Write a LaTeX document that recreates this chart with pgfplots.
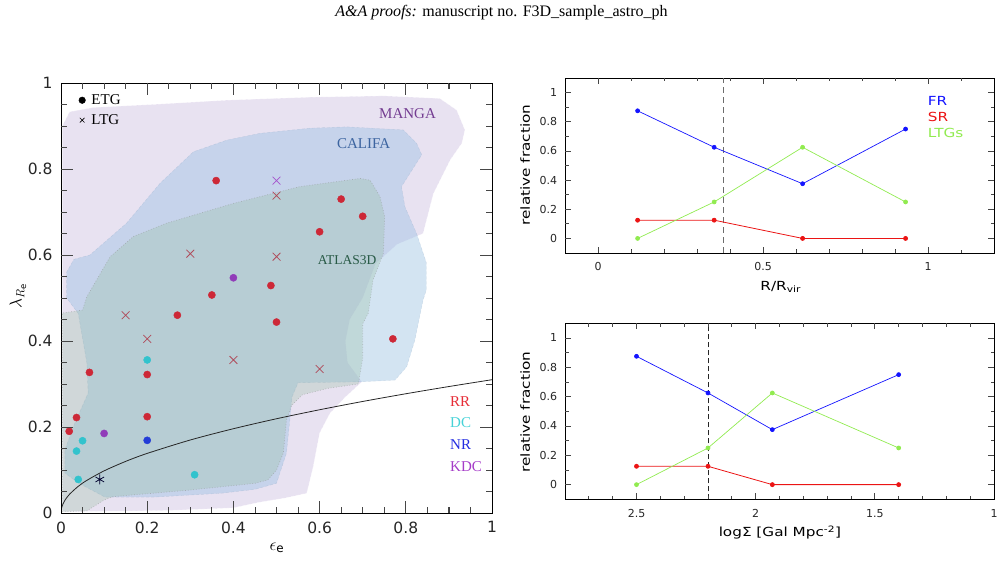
\documentclass[border=0pt]{standalone}
\usepackage{fontspec}
\setmainfont{DejaVu Sans}
\newfontfamily\tnr{Liberation Serif}
\usepackage{graphicx}
\usepackage{pgfplots}
\pgfplotsset{compat=1.18}
\definecolor{mangaC}{RGB}{205,190,225}
\definecolor{califaC}{RGB}{150,190,225}
\definecolor{atlasC}{RGB}{150,190,160}
\definecolor{rrC}{RGB}{205,40,55}
\definecolor{dcC}{RGB}{50,195,205}
\definecolor{nrC}{RGB}{35,60,215}
\definecolor{kdcC}{RGB}{145,60,185}
\definecolor{ltgX}{RGB}{175,75,90}
\definecolor{ltgP}{RGB}{165,85,205}
\definecolor{frC}{RGB}{20,20,255}
\definecolor{srC}{RGB}{235,20,20}
\definecolor{lgC}{RGB}{145,235,80}
\definecolor{tickC}{RGB}{70,70,70}
\newcommand{\sm}[1]{\scalebox{1.22}[1]{#1}}
\begin{document}
\begin{tikzpicture}
\useasboundingbox (0pt,0pt) rectangle (1003pt,563pt);
\node[anchor=base, font=\tnr\fontsize{16}{18}\selectfont, inner sep=0pt] at (501.5pt,546pt) {\textit{A\&A proofs:} manuscript no. F3D\_sample\_astro\_ph};

% ---------------- left panel ----------------
\begin{axis}[
  at={(61pt,50pt)}, anchor=south west, scale only axis,
  width=431pt, height=430pt,
  xmin=0, xmax=1, ymin=0, ymax=1,
  xtick={0,0.2,0.4,0.6,0.8,1}, ytick={0,0.2,0.4,0.6,0.8,1},
  xticklabels={0,0.2,0.4,0.6,0.8,1}, yticklabels={0,0.2,0.4,0.6,0.8,1},
  minor tick num=3,
  tickwidth=12pt, subtickwidth=6pt,
  xtick style={black!75, line width=0.8pt},
  ytick style={black!75, line width=0.8pt},
  tick label style={font=\fontsize{15.5}{17}\selectfont, black!85},
  xticklabel style={yshift=-5pt},
  yticklabel style={xshift=-5pt},
  xlabel={\fontsize{17}{19}\selectfont$\epsilon_{\mathrm{e}}$},
  xlabel style={at={(axis description cs:0.501,-0.081)}, anchor=center},
  ylabel={\fontsize{17}{19}\selectfont$\lambda_{R_{\mathrm{e}}}$},
  ylabel style={at={(axis description cs:-0.0998,0.505)}, anchor=center},
  axis on top,
  legend style={at={(axis cs:0.041,0.976)}, anchor=north west, draw=none, fill=none,
    font=\tnr\fontsize{15}{17}\selectfont, inner sep=0pt, row sep=6.5pt, column sep=5pt,
    nodes={inner sep=1pt}},
  legend cell align=left,
  legend image code/.code={\draw[#1] plot coordinates {(0pt,0pt)};},
]
\addlegendimage{only marks, mark=*, mark size=3.3pt, black}
\addlegendentry{ETG}
\addlegendimage{only marks, mark=x, mark size=3.3pt, black, line width=0.6pt}
\addlegendentry{LTG}

% MANGA region
\addplot[fill=mangaC, fill opacity=0.45, draw=white, draw opacity=0.6, densely dashed, forget plot] coordinates {
(0.003,0.003) (0.1,0.004) (0.25,0.006) (0.4,0.012) (0.46,0.025) (0.52,0.035) (0.57,0.046)
(0.585,0.107) (0.60,0.186) (0.624,0.232) (0.66,0.27) (0.698,0.305)
(0.665,0.35) (0.66,0.40) (0.67,0.45) (0.70,0.50) (0.73,0.58) (0.78,0.625) (0.84,0.65)
(0.864,0.743) (0.903,0.821) (0.93,0.86) (0.937,0.891) (0.918,0.937) (0.879,0.964)
(0.75,0.97) (0.578,0.967) (0.384,0.96) (0.23,0.951) (0.075,0.943) (0.02,0.933) (0.003,0.90)
} -- cycle;
% CALIFA region
\addplot[fill=califaC, fill opacity=0.42, draw=califaC!80!black, draw opacity=0.25, densely dashed, forget plot] coordinates {
(0.013,0.50) (0.013,0.56) (0.03,0.59) (0.067,0.60) (0.152,0.674) (0.23,0.767) (0.307,0.84)
(0.384,0.867) (0.462,0.883) (0.578,0.895) (0.663,0.898) (0.794,0.891) (0.825,0.86) (0.837,0.833)
(0.79,0.759) (0.798,0.712) (0.825,0.65) (0.848,0.581) (0.848,0.52) (0.84,0.495) (0.821,0.402)
(0.802,0.34) (0.775,0.309) (0.694,0.305) (0.55,0.303) (0.536,0.27) (0.531,0.216) (0.523,0.139)
(0.50,0.069) (0.45,0.055) (0.373,0.046) (0.218,0.037) (0.102,0.037) (0.04,0.07) (0.009,0.093)
(0.009,0.147) (0.032,0.209) (0.063,0.279) (0.06,0.349) (0.04,0.464)
} -- cycle;
% ATLAS3D region
\addplot[fill=atlasC, fill opacity=0.3, draw=black!45, draw opacity=0.5, dotted, line width=0.7pt, forget plot] coordinates {
(0.003,0.003) (0.06,0.005) (0.1,0.03) (0.12,0.038) (0.295,0.053) (0.45,0.069) (0.48,0.077)
(0.50,0.10) (0.516,0.14) (0.523,0.216) (0.535,0.25) (0.56,0.275) (0.62,0.29) (0.69,0.30)
(0.70,0.36) (0.70,0.44) (0.713,0.465) (0.724,0.542) (0.748,0.604) (0.751,0.689) (0.74,0.736)
(0.717,0.774) (0.694,0.778) (0.554,0.759) (0.4,0.72) (0.245,0.674) (0.168,0.643) (0.114,0.596)
(0.06,0.503) (0.05,0.472) (0.003,0.465)
} -- cycle;

% curve
\addplot[black!85, line width=0.8pt, smooth, forget plot] coordinates {
(0,0) (0.001,0.0098) (0.0025,0.0155) (0.005,0.0219) (0.01,0.031) (0.02,0.0438) (0.04,0.062)
(0.06,0.0759) (0.1,0.098) (0.15,0.120) (0.2,0.1386) (0.3,0.1698) (0.4,0.196) (0.5,0.2192)
(0.6,0.2401) (0.7,0.2594) (0.8,0.2773) (0.9,0.2941) (1.0,0.31)
};

% LTG crosses
\addplot[only marks, mark=x, mark size=5.5pt, ltgX, line width=0.75pt, forget plot] coordinates {
(0.50,0.738) (0.30,0.603) (0.50,0.596) (0.15,0.46) (0.20,0.405) (0.40,0.356) (0.60,0.335)
};
\addplot[only marks, mark=x, mark size=5.5pt, ltgP, line width=0.75pt, forget plot] coordinates {(0.50,0.773)};
\addplot[only marks, mark=asterisk, mark size=5pt, black!70!blue!60!black, line width=0.75pt, forget plot] coordinates {(0.09,0.078)};

% ETG circles
\addplot[only marks, mark=*, mark size=3.6pt, rrC, forget plot] coordinates {
(0.36,0.773) (0.65,0.73) (0.70,0.69) (0.60,0.654) (0.487,0.529) (0.35,0.507) (0.27,0.46)
(0.50,0.444) (0.77,0.405) (0.066,0.327) (0.20,0.322) (0.036,0.222) (0.20,0.224) (0.019,0.19)
};
\addplot[only marks, mark=*, mark size=3.6pt, dcC, forget plot] coordinates {
(0.20,0.356) (0.05,0.168) (0.036,0.144) (0.04,0.078) (0.31,0.089)
};
\addplot[only marks, mark=*, mark size=3.6pt, nrC, forget plot] coordinates {(0.20,0.169)};
\addplot[only marks, mark=*, mark size=3.6pt, kdcC, forget plot] coordinates {(0.40,0.547) (0.10,0.185)};

\begin{scope}[font=\tnr\fontsize{15}{17}\selectfont]
\node[anchor=center, text={rgb,255:red,115;green,60;blue,145}] at (axis cs:0.804,0.928) {MANGA};
\node[anchor=center, text={rgb,255:red,60;green,100;blue,160}] at (axis cs:0.702,0.858) {CALIFA};
\node[anchor=center, text={rgb,255:red,40;green,90;blue,70}, font=\tnr\fontsize{13.5}{15}\selectfont] at (axis cs:0.664,0.588) {ATLAS3D};
\node[anchor=west, inner sep=0pt, text={rgb,255:red,230;green,45;blue,55}] at (axis cs:0.9026,0.26) {RR};
\node[anchor=west, inner sep=0pt, text={rgb,255:red,70;green,210;blue,215}] at (axis cs:0.9026,0.2105) {DC};
\node[anchor=west, inner sep=0pt, text={rgb,255:red,35;green,45;blue,225}] at (axis cs:0.9026,0.16) {NR};
\node[anchor=west, inner sep=0pt, text={rgb,255:red,165;green,60;blue,200}] at (axis cs:0.9026,0.109) {KDC};
\end{scope}
\end{axis}

% ---------------- top right panel ----------------
\begin{axis}[
  at={(565pt,310pt)}, anchor=south west, scale only axis,
  width=429pt, height=175pt,
  xmin=-0.1, xmax=1.2, ymin=-0.1, ymax=1.1,
  xtick={0,0.5,1}, xticklabels={0,0.5,1}, minor x tick num=4,
  ytick={0,0.2,0.4,0.6,0.8,1}, yticklabels={0,0.2,0.4,0.6,0.8,1}, minor y tick num=1,
  tickwidth=6pt, subtickwidth=3.5pt,
  xtick style={black!80, line width=0.7pt},
  ytick style={black!80, line width=0.7pt},
  tick label style={font=\fontsize{11}{13}\selectfont, black!85},
  xticklabel style={yshift=-6.3pt},
  yticklabel style={xshift=-4.3pt},
  xlabel={\sm{\fontsize{12.5}{14}\selectfont R/R\textsubscript{vir}}},
  xlabel style={at={(axis description cs:0.503,-0.194)}, anchor=center},
  ylabel={\sm{\fontsize{12.5}{14}\selectfont relative fraction}},
  ylabel style={at={(axis description cs:-0.093,0.503)}, anchor=center},
]
\addplot[gray!85!black, line width=1.3pt, dash pattern=on 6pt off 4pt] coordinates {(0.38,-0.1) (0.38,1.1)};
\addplot[frC, line width=0.7pt, mark=*, mark size=2pt] coordinates {(0.12,0.875) (0.352,0.625) (0.62,0.375) (0.932,0.75)};
\addplot[srC, line width=0.8pt, mark=*, mark size=2pt] coordinates {(0.12,0.125) (0.352,0.125) (0.62,0) (0.932,0)};
\addplot[lgC, line width=0.7pt, mark=*, mark size=2pt] coordinates {(0.12,0) (0.352,0.25) (0.62,0.625) (0.932,0.25)};
\begin{scope}[font=\fontsize{12.5}{14}\selectfont]
\node[anchor=base west, inner sep=0pt, text=frC] at (axis cs:0.999,0.909) {\sm{FR}};
\node[anchor=base west, inner sep=0pt, text=srC] at (axis cs:0.999,0.80) {\sm{SR}};
\node[anchor=base west, inner sep=0pt, text=lgC] at (axis cs:0.999,0.691) {\sm{LTGs}};
\end{scope}
\end{axis}

% ---------------- bottom right panel ----------------
\begin{axis}[
  at={(565pt,63.7pt)}, anchor=south west, scale only axis,
  width=429pt, height=176pt,
  x dir=reverse,
  xmin=1, xmax=2.8, ymin=-0.1, ymax=1.1,
  xtick={1,1.5,2,2.5}, xticklabels={1,1.5,2,2.5}, minor x tick num=4,
  ytick={0,0.2,0.4,0.6,0.8,1}, yticklabels={0,0.2,0.4,0.6,0.8,1}, minor y tick num=1,
  tickwidth=6pt, subtickwidth=3.5pt,
  xtick style={black!80, line width=0.7pt},
  ytick style={black!80, line width=0.7pt},
  tick label style={font=\fontsize{11}{13}\selectfont, black!85},
  xticklabel style={yshift=-6.3pt},
  yticklabel style={xshift=-4.3pt},
  xlabel={\sm{\fontsize{12.5}{14}\selectfont logΣ [Gal Mpc\textsuperscript{-2}]}},
  xlabel style={at={(axis description cs:0.501,-0.19)}, anchor=center},
  ylabel={\sm{\fontsize{12.5}{14}\selectfont relative fraction}},
  ylabel style={at={(axis description cs:-0.093,0.496)}, anchor=center},
]
\addplot[black!85, line width=0.7pt, dash pattern=on 5pt off 3pt] coordinates {(2.2,-0.1) (2.2,1.1)};
\addplot[frC, line width=0.7pt, mark=*, mark size=2pt] coordinates {(2.5,0.875) (2.2,0.625) (1.93,0.375) (1.4,0.75)};
\addplot[srC, line width=0.8pt, mark=*, mark size=2pt] coordinates {(2.5,0.125) (2.2,0.125) (1.93,0) (1.4,0)};
\addplot[lgC, line width=0.7pt, mark=*, mark size=2pt] coordinates {(2.5,0) (2.2,0.25) (1.93,0.625) (1.4,0.25)};
\end{axis}

% ---------------- frame ticks (plain TikZ, absolute positions) ----------------
\begin{scope}[draw=tickC, line width=0.9pt]
% left panel: box 61..492 x 50..480
\foreach \v/\L in {0.05/6,0.1/6,0.15/6,0.2/12,0.25/6,0.3/6,0.35/6,0.4/12,0.45/6,0.5/6,0.55/6,0.6/12,0.65/6,0.7/6,0.75/6,0.8/12,0.85/6,0.9/6,0.95/6}{
  \pgfmathsetlengthmacro\X{(61+431*\v)*1pt}
  \pgfmathsetlengthmacro\Y{(50+430*\v)*1pt}
  \draw (\X,50pt) -- ++(0pt,\L pt);
  \draw (\X,480pt) -- ++(0pt,-\L pt);
  \draw (61pt,\Y) -- ++(\L pt,0pt);
  \draw (492pt,\Y) -- ++(-\L pt,0pt);
}
\end{scope}
\begin{scope}[draw=tickC, line width=0.75pt]
% top right: x from -0.1..1.2 over 565..994 ; y -0.1..1.1 over 310..485
\foreach \v/\L in {0/6,0.1/3.5,0.2/3.5,0.3/3.5,0.4/3.5,0.5/6,0.6/3.5,0.7/3.5,0.8/3.5,0.9/3.5,1/6,1.1/3.5}{
  \pgfmathsetlengthmacro\X{(565+429*(\v+0.1)/1.3)*1pt}
  \draw (\X,310pt) -- ++(0pt,\L pt);
  \draw (\X,485pt) -- ++(0pt,-\L pt);
}
\foreach \v/\L in {0/6,0.1/3.5,0.2/6,0.3/3.5,0.4/6,0.5/3.5,0.6/6,0.7/3.5,0.8/6,0.9/3.5,1/6}{
  \pgfmathsetlengthmacro\Y{(310+175*(\v+0.1)/1.2)*1pt}
  \draw (565pt,\Y) -- ++(\L pt,0pt);
  \draw (994pt,\Y) -- ++(-\L pt,0pt);
  \pgfmathsetlengthmacro\Yb{(63.7+176*(\v+0.1)/1.2)*1pt}
  \draw (565pt,\Yb) -- ++(\L pt,0pt);
  \draw (994pt,\Yb) -- ++(-\L pt,0pt);
}
% bottom right: x reversed 2.8..1 over 565..994 ; y 63.7..239.7
\foreach \v/\L in {1.1/3.5,1.2/3.5,1.3/3.5,1.4/3.5,1.5/6,1.6/3.5,1.7/3.5,1.8/3.5,1.9/3.5,2/6,2.1/3.5,2.2/3.5,2.3/3.5,2.4/3.5,2.5/6,2.6/3.5,2.7/3.5}{
  \pgfmathsetlengthmacro\X{(565+429*(2.8-\v)/1.8)*1pt}
  \draw (\X,63.7pt) -- ++(0pt,\L pt);
  \draw (\X,239.7pt) -- ++(0pt,-\L pt);
}
\end{scope}
\end{tikzpicture}
\end{document}
